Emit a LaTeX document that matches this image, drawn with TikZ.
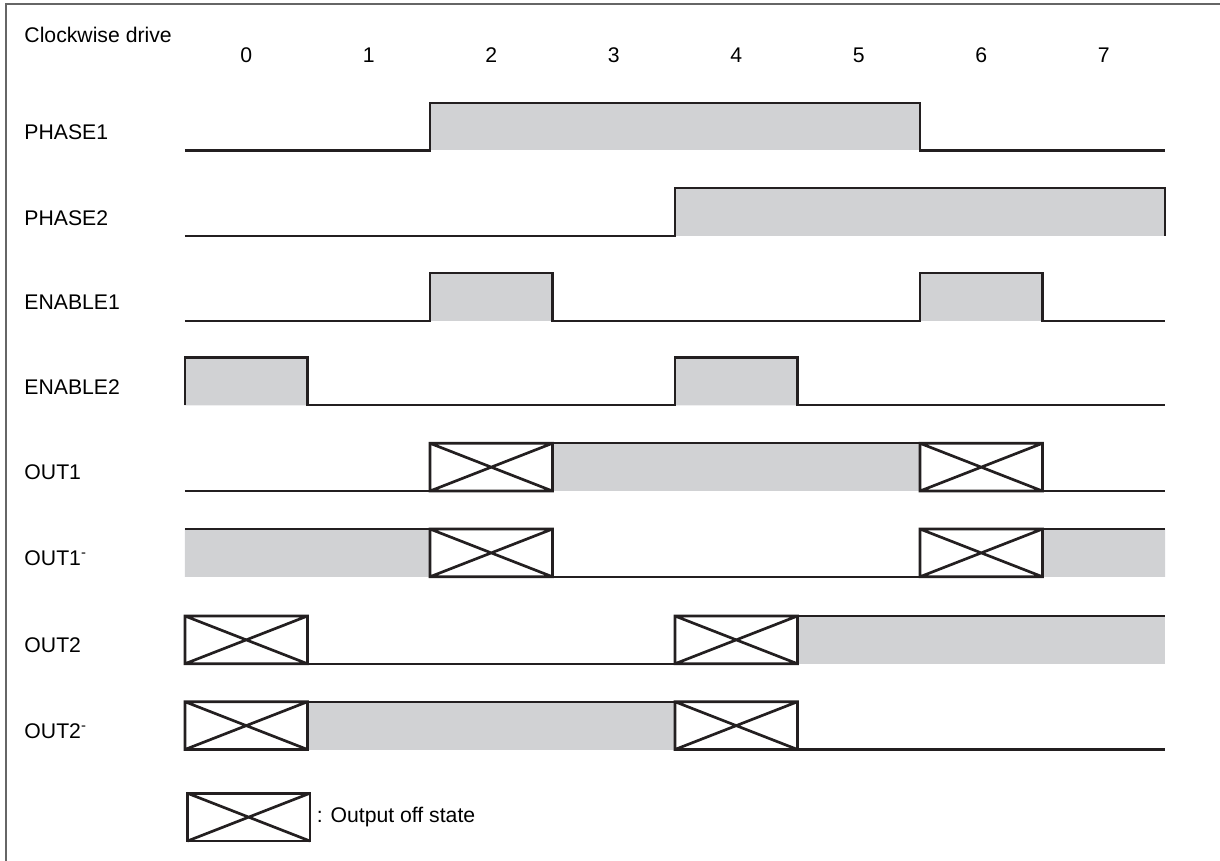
\documentclass[tikz,border=0pt]{standalone}
\usepackage{fontspec}
\setmainfont{Liberation Sans}
\usetikzlibrary{positioning}
\definecolor{signal gray}{HTML}{D1D2D4}
\definecolor{line dark}{HTML}{231F20}
\tikzset{
    % Signals
    signal line/.style={line dark,line width=0.95pt},
    high area/.style={fill=signal gray},
    off box/.style={line dark,line width=1.25pt},
    frame line/.style={black!60,line width=0.9pt},
    %
    % Labels
    row label/.style={anchor=west,inner sep=0pt},
    slot label/.style={inner sep=0pt}
}
\tikzstyle{every node}=[font=\fontsize{9.85}{12}\selectfont]
\newcommand{\hgt}{0.39}
\newcommand{\offstate}[2]{% left edge, low level
    \draw[off box] (#1,#2) rectangle ++(1,\hgt)
        (#1,#2) -- ++(1,\hgt) (#1,#2+\hgt) -- ++(1,-\hgt);
}

\begin{document}
\begin{tikzpicture}[x=2cm,y=2cm]
        \useasboundingbox (-1.5102,0) rectangle (8.449,7.0286);
        \draw[frame line] (8.449,6.992) -- (-1.465,6.992) -- (-1.465,0);
        % header
        \node[row label] (title) at (-1.314,6.743) {Clockwise drive};
        \foreach \i in {0,...,7}
            \node[slot label] (slot\i) at (\i+0.5,6.58) {\i};
        % labels
        \node[row label] (phase1) at (-1.314,5.95) {PHASE1};
        \node[row label] (phase2) at (-1.314,5.25) {PHASE2};
        \node[row label] (enable1) at (-1.314,4.56) {ENABLE1};
        \node[row label] (enable2) at (-1.314,3.87) {ENABLE2};
        \node[row label] (out1) at (-1.314,3.17) {OUT1};
        \node[row label] (out1n) at (-1.314,2.47) {OUT1\textsuperscript{-}};
        \node[row label] (out2) at (-1.314,1.76) {OUT2};
        \node[row label] (out2n) at (-1.314,1.06) {OUT2\textsuperscript{-}};
        % PHASE1
        \fill[high area] (2,5.80) rectangle (6,5.80+\hgt);
        \draw[signal line] (0,5.80) -- (2,5.80) |- (6,5.80+\hgt) -- (6,5.80) -- (8,5.80);
        % PHASE2
        \fill[high area] (4,5.10) rectangle (8,5.10+\hgt);
        \draw[signal line] (0,5.10) -- (4,5.10) |- (8,5.10+\hgt) -- (8,5.10);
        % ENABLE1
        \fill[high area] (2,4.41) rectangle (3,4.41+\hgt) (6,4.41) rectangle (7,4.41+\hgt);
        \draw[signal line] (0,4.41) -- (2,4.41) |- (3,4.41+\hgt) -- (3,4.41) -- (6,4.41)
            |- (7,4.41+\hgt) -- (7,4.41) -- (8,4.41);
        % ENABLE2
        \fill[high area] (0,3.72) rectangle (1,3.72+\hgt) (4,3.72) rectangle (5,3.72+\hgt);
        \draw[signal line] (0,3.72) |- (1,3.72+\hgt) -- (1,3.72) -- (4,3.72)
            |- (5,3.72+\hgt) -- (5,3.72) -- (8,3.72);
        % OUT1
        \fill[high area] (3,3.02) rectangle (6,3.02+\hgt);
        \draw[signal line] (0,3.02) -- (2,3.02) (3,3.02+\hgt) -- (6,3.02+\hgt) (7,3.02) -- (8,3.02);
        \offstate{2}{3.02}
        \offstate{6}{3.02}
        % OUT1-
        \fill[high area] (0,2.32) rectangle (2,2.32+\hgt) (7,2.32) rectangle (8,2.32+\hgt);
        \draw[signal line] (0,2.32+\hgt) -- (2,2.32+\hgt) (3,2.32) -- (6,2.32) (7,2.32+\hgt) -- (8,2.32+\hgt);
        \offstate{2}{2.32}
        \offstate{6}{2.32}
        % OUT2
        \fill[high area] (5,1.61) rectangle (8,1.61+\hgt);
        \draw[signal line] (1,1.61) -- (4,1.61) (5,1.61+\hgt) -- (8,1.61+\hgt);
        \offstate{0}{1.61}
        \offstate{4}{1.61}
        % OUT2-
        \fill[high area] (1,0.91) rectangle (4,0.91+\hgt);
        \draw[signal line] (1,0.91+\hgt) -- (4,0.91+\hgt) (5,0.91) -- (8,0.91);
        \offstate{0}{0.91}
        \offstate{4}{0.91}
        % legend
        \node[off box,draw,inner sep=0pt,outer sep=0pt,minimum width=2cm,minimum height=0.78cm,
            anchor=south west] (legend) at (0.02,0.163) {};
        \draw[off box] (legend.south west) -- (legend.north east) (legend.north west) -- (legend.south east);
        \node[right=3pt of legend,inner sep=0pt] (legendtext) {: Output off state};
    \end{tikzpicture}
\end{document}
